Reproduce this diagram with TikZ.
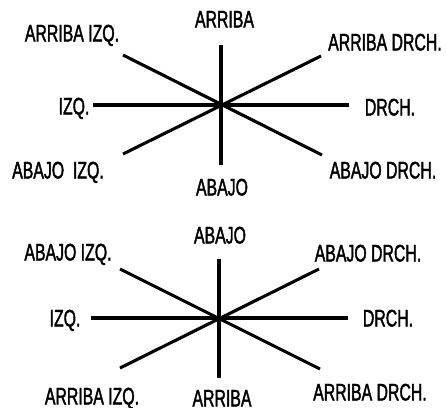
\documentclass[tikz,border=0pt]{standalone}
\usepackage{fontspec}
\setmainfont{Liberation Sans}[FakeStretch=0.66,FakeBold=1.6]
\begin{document}
\begin{tikzpicture}[x=1pt,y=-1pt,
  spoke/.style={line width=3.1pt, line cap=butt},
  dirlabel/.style={inner sep=0pt, text height=17pt, text depth=0pt,
    font=\fontsize{24}{25}\selectfont}]
\useasboundingbox (0,0) rectangle (447,407);

% upper rose
\coordinate (c1) at (221,105);
\coordinate (t1) at (221,45);   \coordinate (b1) at (221,165);
\coordinate (l1) at (93,105);   \coordinate (r1) at (349,105);
\coordinate (ul1) at (123,55);  \coordinate (lr1) at (322,155);
\coordinate (ur1) at (321,56);  \coordinate (ll1) at (123,154);
\draw[spoke] (t1) -- (b1);
\draw[spoke] (l1) -- (r1);
\draw[spoke] (ul1) -- (lr1);
\draw[spoke] (ur1) -- (ll1);
\node[dirlabel] (n1)  at (224.5,19) {ARRIBA};
\node[dirlabel] (nw1) at (72,33)   {ARRIBA IZQ.};
\node[dirlabel] (ne1) at (385,42)  {ARRIBA DRCH.};
\node[dirlabel] (w1)  at (74,106)  {IZQ.};
\node[dirlabel] (e1)  at (390,107) {DRCH.};
\node[dirlabel] (sw1) at (58,170)  {ABAJO\ \ IZQ.};
\node[dirlabel] (s1)  at (222,187) {ABAJO};
\node[dirlabel] (se1) at (383,170) {ABAJO DRCH.};

% lower rose
\coordinate (c2) at (219,318);
\coordinate (t2) at (219,259);  \coordinate (b2) at (219,378);
\coordinate (l2) at (91,318);   \coordinate (r2) at (348,318);
\coordinate (ul2) at (120,269); \coordinate (lr2) at (320,369);
\coordinate (ur2) at (319,269); \coordinate (ll2) at (120,368);
\draw[spoke] (t2) -- (b2);
\draw[spoke] (l2) -- (r2);
\draw[spoke] (ul2) -- (lr2);
\draw[spoke] (ur2) -- (ll2);
\node[dirlabel] (n2)  at (220,235) {ABAJO};
\node[dirlabel] (nw2) at (68,252)  {ABAJO IZQ.};
\node[dirlabel] (ne2) at (368,253) {ABAJO DRCH.};
\node[dirlabel] (w2)  at (65,318)  {IZQ.};
\node[dirlabel] (e2)  at (388,318) {DRCH.};
\node[dirlabel] (sw2) at (92,396)  {ARRIBA IZQ.};
\node[dirlabel] (s2)  at (222,398) {ARRIBA};
\node[dirlabel] (se2) at (370,392) {ARRIBA DRCH.};
\end{tikzpicture}
\end{document}
